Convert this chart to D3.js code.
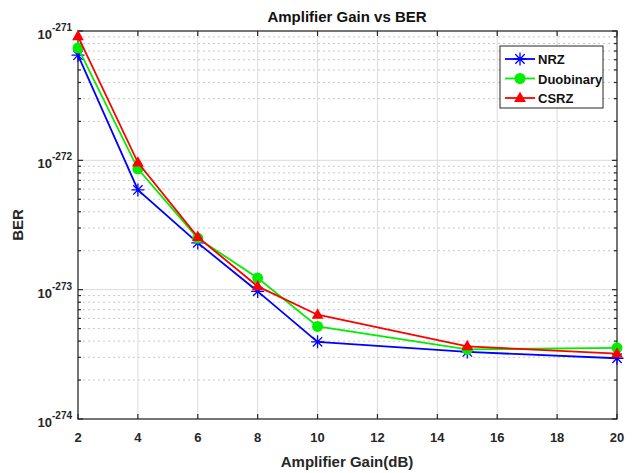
<!DOCTYPE html>
<html>
<head>
<meta charset="utf-8">
<script src="https://cdn.jsdelivr.net/npm/d3@7/dist/d3.min.js"></script>
<style>
  html, body { margin: 0; padding: 0; background: #fff; }
  svg { display: block; font-family: "Liberation Sans", Arial, sans-serif; }
</style>
</head>
<body>
<svg id="chart" width="636" height="473"></svg>
<script>
// Amplifier gain settings (dB)
const gains = [2, 4, 6, 8, 10, 15, 20];

// BER per modulation format
const berNRZ       = [6.5e-272, 5.9e-273, 2.3e-273, 9.7e-274, 3.95e-274, 3.3e-274, 2.95e-274];
const berDuobinary = [7.4e-272, 8.6e-273, 2.5e-273, 1.23e-273, 5.2e-274, 3.45e-274, 3.55e-274];
const berCSRZ      = [9.1e-272, 9.6e-273, 2.55e-273, 1.06e-273, 6.4e-274, 3.65e-274, 3.2e-274];

const xTicks = [2, 4, 6, 8, 10, 12, 14, 16, 18, 20];
const yDecades = [-274, -273, -272, -271];

const seriesNames = ["NRZ", "Duobinary", "CSRZ"];
const seriesColors = ["#0000ff", "#00ee00", "#ff0000"];
const seriesMarkers = ["star", "circle", "triangle"];

const series = seriesNames.map((name, i) => ({
  name,
  color: seriesColors[i],
  marker: seriesMarkers[i],
  values: [berNRZ, berDuobinary, berCSRZ][i].map((v, j) => ({ x: gains[j], y: v }))
}));

const svg = d3.select("#chart");
const m = { left: 78, right: 617, top: 31, bottom: 419 };

const x = d3.scaleLinear().domain([2, 20]).range([m.left, m.right]);
const y = d3.scaleLog().domain([1e-274, 1e-271]).range([m.bottom, m.top]);

// Minor grid (dotted) at 2..9 within each decade
const minor = [];
for (let d = -274; d < -271; d++) {
  for (let k = 2; k <= 9; k++) minor.push(k * Math.pow(10, d));
}
const grid = svg.append("g");
grid.selectAll("line.minor").data(minor).join("line")
  .attr("x1", m.left).attr("x2", m.right)
  .attr("y1", d => y(d)).attr("y2", d => y(d))
  .attr("stroke", "#c8c8c8").attr("stroke-width", 1)
  .attr("stroke-dasharray", "2,3");

// Major grid (solid)
grid.selectAll("line.vx").data(xTicks).join("line")
  .attr("x1", d => x(d)).attr("x2", d => x(d))
  .attr("y1", m.top).attr("y2", m.bottom)
  .attr("stroke", "#dcdcdc").attr("stroke-width", 1);
grid.selectAll("line.hy").data(yDecades).join("line")
  .attr("x1", m.left).attr("x2", m.right)
  .attr("y1", d => y(Math.pow(10, d))).attr("y2", d => y(Math.pow(10, d)))
  .attr("stroke", "#dcdcdc").attr("stroke-width", 1);

// Axes (ticks inward, box on)
const tickLen = 5;
const axisColor = "#262626";
const axes = svg.append("g").attr("stroke", axisColor).attr("stroke-width", 1.2);
axes.append("rect")
  .attr("x", m.left).attr("y", m.top)
  .attr("width", m.right - m.left).attr("height", m.bottom - m.top)
  .attr("fill", "none");
xTicks.forEach(t => {
  axes.append("line").attr("x1", x(t)).attr("x2", x(t)).attr("y1", m.bottom).attr("y2", m.bottom - tickLen);
  axes.append("line").attr("x1", x(t)).attr("x2", x(t)).attr("y1", m.top).attr("y2", m.top + tickLen);
});
yDecades.forEach(d => {
  const yy = y(Math.pow(10, d));
  axes.append("line").attr("x1", m.left).attr("x2", m.left + tickLen).attr("y1", yy).attr("y2", yy);
  axes.append("line").attr("x1", m.right).attr("x2", m.right - tickLen).attr("y1", yy).attr("y2", yy);
});
minor.forEach(v => {
  const yy = y(v);
  axes.append("line").attr("x1", m.left).attr("x2", m.left + 3).attr("y1", yy).attr("y2", yy);
  axes.append("line").attr("x1", m.right).attr("x2", m.right - 3).attr("y1", yy).attr("y2", yy);
});

// Tick labels
const labels = svg.append("g").attr("fill", "#262626").attr("font-weight", "bold");
labels.selectAll("text.xt").data(xTicks).join("text")
  .attr("x", d => x(d)).attr("y", 442)
  .attr("text-anchor", "middle").attr("font-size", 13)
  .text(d => d);
yDecades.forEach(d => {
  const t = labels.append("text")
    .attr("x", 72).attr("y", y(Math.pow(10, d)) + 8)
    .attr("text-anchor", "end").attr("font-size", 13);
  t.append("tspan").text("10");
  t.append("tspan").attr("dy", -8).attr("font-size", 10).text(d);
});

// Titles
svg.append("text").attr("x", 347).attr("y", 22).attr("text-anchor", "middle")
  .attr("font-size", 15).attr("font-weight", "bold").attr("fill", "#111")
  .text("Amplifier Gain vs BER");
svg.append("text").attr("x", 347).attr("y", 467).attr("text-anchor", "middle")
  .attr("font-size", 15).attr("font-weight", "bold").attr("fill", "#262626")
  .text("Amplifier Gain(dB)");
svg.append("text").attr("transform", "translate(23,225) rotate(-90)")
  .attr("text-anchor", "middle")
  .attr("font-size", 15).attr("font-weight", "bold").attr("fill", "#262626")
  .text("BER");

// Marker drawing
function drawMarker(g, type, color, cx, cy) {
  if (type === "star") {
    const r = 6.5, d = r * 0.72;
    const p = `M${cx - r},${cy}L${cx + r},${cy}M${cx},${cy - r}L${cx},${cy + r}` +
              `M${cx - d},${cy - d}L${cx + d},${cy + d}M${cx - d},${cy + d}L${cx + d},${cy - d}`;
    g.append("path").attr("d", p).attr("stroke", color).attr("stroke-width", 1.3).attr("fill", "none");
  } else if (type === "circle") {
    g.append("circle").attr("cx", cx).attr("cy", cy).attr("r", 5.5).attr("fill", color);
  } else {
    const s = 6.5;
    g.append("path")
      .attr("d", `M${cx},${cy - s}L${cx + s * 0.9},${cy + s * 0.6}L${cx - s * 0.9},${cy + s * 0.6}Z`)
      .attr("fill", color);
  }
}

// Series lines and markers
const line = d3.line().x(d => x(d.x)).y(d => y(d.y));
const plot = svg.append("g");
series.forEach(s => {
  const g = plot.append("g");
  g.append("path").datum(s.values).attr("d", line)
    .attr("fill", "none").attr("stroke", s.color).attr("stroke-width", 1.8);
  s.values.forEach(v => drawMarker(g, s.marker, s.color, x(v.x), y(v.y)));
});

// Legend
const lg = svg.append("g");
lg.append("rect").attr("x", 500).attr("y", 46).attr("width", 103).attr("height", 62)
  .attr("fill", "#fff").attr("stroke", "#262626").attr("stroke-width", 1);
series.forEach((s, i) => {
  const ly = 59 + i * 19.5;
  lg.append("line").attr("x1", 505).attr("x2", 535).attr("y1", ly).attr("y2", ly)
    .attr("stroke", s.color).attr("stroke-width", 1.8);
  drawMarker(lg, s.marker, s.color, 520, ly);
  lg.append("text").attr("x", 538).attr("y", ly + 5)
    .attr("font-size", 13).attr("font-weight", "bold").attr("fill", "#111")
    .text(s.name);
});
</script>
</body>
</html>
